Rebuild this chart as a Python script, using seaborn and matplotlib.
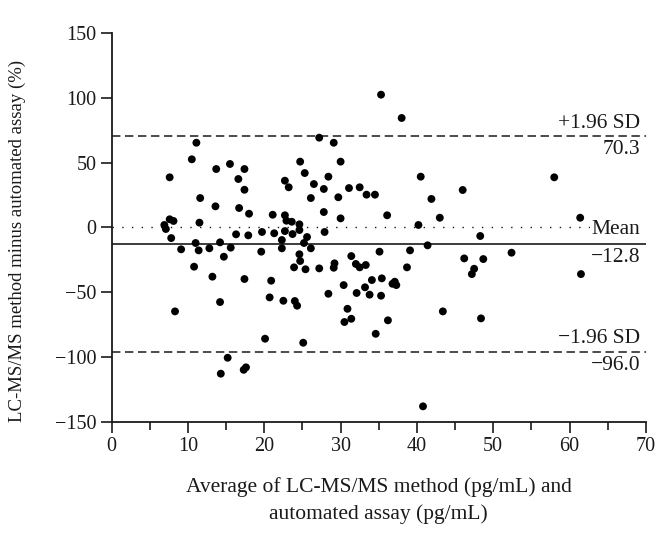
import matplotlib
matplotlib.use("Agg")
import matplotlib.pyplot as plt
import seaborn as sns
import pandas as pd

# Bland-Altman data: average (pg/mL) and difference (%)
avg_a = [11.1, 10.5, 7.6, 13.7, 15.5, 17.4, 16.6, 17.4, 11.6, 13.6, 16.7, 18.0, 21.1, 22.7,
         23.2, 22.7, 22.9, 7.6, 8.1, 6.9, 7.1, 11.5, 7.8, 16.3, 17.9, 19.7, 21.3, 22.7]
diff_a = [65.3, 52.5, 38.6, 45.0, 48.9, 45.0, 37.3, 29.0, 22.6, 16.2, 14.9, 10.5, 9.7, 36.0,
          30.9, 9.3, 5.1, 6.2, 4.9, 1.8, -1.3, 3.6, -8.3, -5.4, -6.2, -3.6, -4.6, -2.9]

avg_b = [35.3, 38.0, 27.2, 29.1, 24.7, 30.0, 25.3, 28.4, 26.5, 27.8, 31.1, 32.5, 26.1, 29.7,
         33.4, 34.5, 40.5, 41.9, 27.8, 30.0, 36.1, 40.2, 23.6, 24.6, 23.7, 24.6, 25.6, 27.9]
diff_b = [102.4, 84.4, 69.2, 65.3, 50.7, 50.7, 41.9, 39.1, 33.4, 29.6, 30.3, 30.9, 22.6, 23.2,
          25.2, 25.2, 39.1, 21.9, 11.8, 6.9, 9.3, 1.8, 4.3, 2.3, -5.2, -2.1, -7.5, -3.6]

avg_c = [9.1, 11.0, 11.4, 12.8, 14.2, 15.6, 14.7, 10.8, 13.2, 17.4, 20.9, 19.6, 22.3, 22.3,
         14.2, 20.7, 22.5, 8.3, 20.1, 15.2, 14.3, 17.3, 17.6]
diff_c = [-17.0, -12.1, -17.8, -16.2, -11.6, -15.7, -22.7, -30.4, -38.1, -39.9, -41.2, -18.8,
          -16.2, -9.8, -57.7, -54.1, -56.7, -64.9, -86.0, -100.7, -113.0, -110.0, -108.1]

avg_d = [25.2, 26.1, 24.6, 24.7, 23.9, 25.4, 27.2, 29.1, 29.2, 31.4, 32.0, 32.5, 33.3, 35.1,
         39.1, 41.4, 38.7, 34.1, 35.4, 30.4, 33.2, 32.1, 33.8, 35.3, 37.1, 36.8, 37.3, 28.4,
         24.0, 24.3, 30.9, 30.5, 31.4, 36.2, 34.6, 25.1, 40.8]
diff_d = [-12.1, -16.2, -20.8, -26.0, -30.9, -32.4, -31.7, -31.2, -27.8, -22.2, -28.3, -30.9,
          -29.1, -18.8, -17.8, -13.9, -30.9, -40.7, -39.4, -44.6, -46.3, -50.7, -52.0, -52.8,
          -42.0, -43.6, -44.6, -51.3, -56.9, -60.5, -62.9, -73.1, -70.6, -71.8, -82.2, -89.1,
          -138.2]

avg_e = [46.0, 43.0, 58.0, 61.4, 48.3, 46.2, 48.7, 52.4, 47.5, 47.2, 61.5, 43.4, 48.4]
diff_e = [28.8, 7.4, 38.6, 7.4, -6.7, -24.0, -24.5, -19.6, -32.0, -36.1, -36.1, -64.9, -70.3]

mean_diff = -12.8
upper_loa = 70.3
lower_loa = -96.0

x_ticks = [0, 10, 20, 30, 40, 50, 60, 70]
x_minor = [5, 15, 25, 35, 45, 55, 65]
y_ticks = [-150, -100, -50, 0, 50, 100, 150]

df = pd.DataFrame({
    "avg": avg_a + avg_b + avg_c + avg_d + avg_e,
    "diff": diff_a + diff_b + diff_c + diff_d + diff_e,
})

sns.set_theme(style="ticks")
plt.rcParams["font.family"] = ["Liberation Serif", "DejaVu Serif"]
plt.rcParams["axes.unicode_minus"] = True

fig = plt.figure(figsize=(6.66, 5.36), dpi=100)
ax = fig.add_axes([0.1677, 0.2134, 0.802, 0.725])

ink = "#1a1a1a"
ax.axhline(0, color=ink, lw=1.0, ls=(0, (1, 6)), zorder=1)
ax.axhline(mean_diff, color=ink, lw=1.2, zorder=1)
ax.axhline(upper_loa, color=ink, lw=1.1, ls=(0, (5.5, 3)), zorder=1)
ax.axhline(lower_loa, color=ink, lw=1.1, ls=(0, (5.5, 3)), zorder=1)

sns.scatterplot(data=df, x="avg", y="diff", ax=ax, color="black", s=32,
                edgecolor="none", linewidth=0, zorder=3)

ax.set_xlim(0, 70)
ax.set_ylim(-150, 150)
ax.set_xticks(x_ticks)
ax.set_yticks(y_ticks)
ax.set_xticks(x_minor, minor=True)
ax.tick_params(axis="both", which="major", direction="out", length=8, width=1.2,
               color=ink, labelsize=14.5, labelcolor=ink, pad=3)
ax.tick_params(axis="x", which="minor", direction="out", length=5.5, width=1.2, color=ink)

for side in ["top", "right"]:
    ax.spines[side].set_visible(False)
for side in ["left", "bottom"]:
    ax.spines[side].set_linewidth(1.3)
    ax.spines[side].set_color(ink)

ax.set_xlabel("Average of LC-MS/MS method (pg/mL) and\nautomated assay (pg/mL)",
              fontsize=15.5, color=ink, linespacing=1.5)
ax.xaxis.set_label_coords(0.5, -0.143)
ax.set_ylabel("LC-MS/MS method minus automated assay (%)", fontsize=13.5, color=ink)
ax.yaxis.set_label_coords(-0.16, 0.465)

tx = 69.3
fs = 15.5
ax.text(tx, upper_loa + 2.5, "+1.96 SD", ha="right", va="bottom", fontsize=fs, color=ink)
ax.text(tx, upper_loa - 3.0, f"{upper_loa:.1f}", ha="right", va="top", fontsize=fs, color=ink)
ax.text(tx, mean_diff + 3.5, "Mean", ha="right", va="bottom", fontsize=fs, color=ink,
        bbox=dict(facecolor="white", edgecolor="none", pad=1.0), zorder=2)
ax.text(tx, mean_diff - 3.0, "\u221212.8", ha="right", va="top", fontsize=fs, color=ink)
ax.text(tx, lower_loa + 2.5, "\u22121.96 SD", ha="right", va="bottom", fontsize=fs, color=ink)
ax.text(tx, lower_loa - 3.0, "\u221296.0", ha="right", va="top", fontsize=fs, color=ink)

fig.savefig("out.png", dpi=100)
